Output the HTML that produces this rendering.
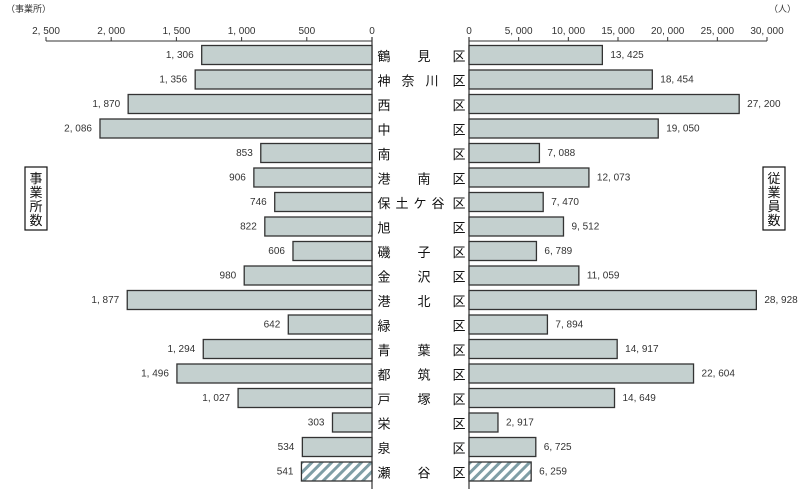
<!DOCTYPE html>
<html><head><meta charset="utf-8"><style>
body{margin:0;background:#fff;width:800px;height:489px;overflow:hidden}
svg text{font-family:"Liberation Sans","Noto Sans CJK JP",sans-serif}
</style></head><body>
<svg id="c" width="800" height="489" xmlns="http://www.w3.org/2000/svg">
<defs><pattern id="hatch" width="7" height="7" patternUnits="userSpaceOnUse" patternTransform="rotate(45)"><rect width="7" height="7" fill="#fff"/><rect width="3" height="7" fill="#7f9ea6"/></pattern></defs>
</svg>
<script>
const wards=["鶴　見","神奈川","西　　","中　　","南　　","港　南","保土ケ谷","旭　　","磯　子","金　沢","港　北","緑　　","青　葉","都　筑","戸　塚","栄　　","泉　　","瀬　谷"];
const offices=[1306,1356,1870,2086,853,906,746,822,606,980,1877,642,1294,1496,1027,303,534,541];
const employees=[13425,18454,27200,19050,7088,12073,7470,9512,6789,11059,28928,7894,14917,22604,14649,2917,6725,6259];
const leftTicks=[0,500,1000,1500,2000,2500];
const rightTicks=[0,5000,10000,15000,20000,25000,30000];
const svg=document.getElementById('c');
const NS='http://www.w3.org/2000/svg';
function mk(t,a,txt){const e=document.createElementNS(NS,t);for(const k in a)e.setAttribute(k,a[k]);if(txt!=null)e.textContent=txt;svg.appendChild(e);return e;}
const L0=372,Lw=326,R0=469,Rw=298,axisY=41;
const xl=v=>L0-v/2500*Lw, xr=v=>R0+v/30000*Rw;
const yc=i=>55+i*24.5, bh=19;
const fmt=v=>v.toLocaleString('en-US').replace(/,/g,', ');
let e;
e=mk('line',{x1:xl(2500),x2:L0,y1:axisY,y2:axisY,stroke:'#333','stroke-width':1});

e=mk('line',{x1:R0,x2:xr(30000),y1:axisY,y2:axisY,stroke:'#333','stroke-width':1});

e=mk('line',{x1:L0,x2:L0,y1:axisY-4,y2:489,stroke:'#333','stroke-width':1.2});

e=mk('line',{x1:R0,x2:R0,y1:axisY-4,y2:489,stroke:'#333','stroke-width':1.2});

leftTicks.forEach(t=>{
 e=mk('line',{x1:xl(t),x2:xl(t),y1:axisY,y2:axisY-4,stroke:'#333'});
 
 e=mk('text',{x:xl(t),y:34,'font-size':10,'text-anchor':'middle',fill:'#333'},fmt(t));
 
});
rightTicks.forEach(t=>{
 e=mk('line',{x1:xr(t),x2:xr(t),y1:axisY,y2:axisY-4,stroke:'#333'});
 
 e=mk('text',{x:xr(t),y:34,'font-size':10,'text-anchor':'middle',fill:'#333'},fmt(t));
 
});
e=mk('text',{x:6,y:12,'font-size':9,fill:'#333'},'（事業所）');

e=mk('text',{x:796,y:12,'font-size':9,fill:'#333','text-anchor':'end'},'（人）');

wards.forEach((w,i)=>{
 const y=yc(i),last=i===wards.length-1,fill=last?'url(#hatch)':'#c4d0cf';
 e=mk('rect',{x:xl(offices[i]),y:y-bh/2,width:L0-xl(offices[i]),height:bh,fill:fill,stroke:'#333','stroke-width':1.3});
 
 e=mk('text',{x:xl(offices[i])-8,y:y+3,'font-size':10,'text-anchor':'end',fill:'#333'},fmt(offices[i]));
 
 e=mk('rect',{x:R0,y:y-bh/2,width:xr(employees[i])-R0,height:bh,fill:fill,stroke:'#333','stroke-width':1.3});
 
 e=mk('text',{x:xr(employees[i])+8,y:y+3,'font-size':10,fill:'#333'},fmt(employees[i]));
 
 const chars=[...w.replace(/　/g,' ')];
 const n=chars.length;
 const pos=n===4?[384,402,420,438]:[384,408,432];
 const isTwo=n===3&&chars[1]===' '&&chars[2]!==' ';
 chars.forEach((c,j)=>{ if(c===' ')return;
  let x=pos[j]; if(isTwo&&j===2)x=424;
  e=mk('text',{x:x,y:y+6,'font-size':13,'text-anchor':'middle',fill:'#111'},c);
  
 });
 e=mk('text',{x:459,y:y+6,'font-size':13,'text-anchor':'middle',fill:'#111'},'区');
 
});
function vbox(x,label,name){
 e=mk('rect',{x:x,y:167,width:22,height:63,fill:'#fff',stroke:'#111','stroke-width':1.2});
 
 [...label].forEach((c,j)=>{
  e=mk('text',{x:x+11,y:183+j*14,'font-size':13,'text-anchor':'middle',fill:'#111'},c);
  
 });
}
vbox(25,'事業所数','left-axis-title');
vbox(763,'従業員数','right-axis-title');
</script>
</body></html>
